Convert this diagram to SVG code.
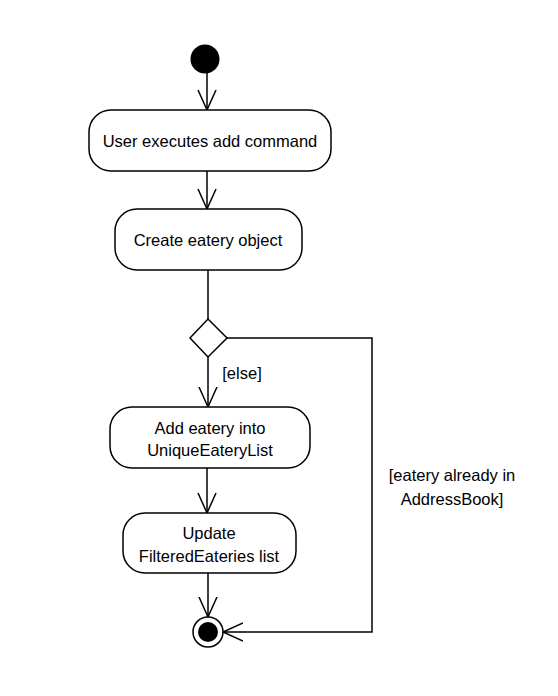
<svg xmlns="http://www.w3.org/2000/svg" width="558" height="696" viewBox="0 0 558 696">
<style>
.n{fill:#fff;stroke:#000;stroke-width:1.5}
.t{font-family:"Liberation Sans",Arial,sans-serif;font-size:16.5px;fill:#000;text-anchor:middle}
.c{fill:none;stroke:#000;stroke-width:1.5}
</style>
<defs>
<marker id="a" markerUnits="userSpaceOnUse" markerWidth="24" markerHeight="24" refX="20" refY="10" orient="auto" viewBox="0 0 24 20">
<path d="M0,1 L20,10 L0,19" fill="none" stroke="#000" stroke-width="1.5"/>
</marker>
</defs>
<rect width="558" height="696" fill="#fff"/>
<g id="connectors">
<line class="c" x1="207" y1="73" x2="207" y2="110" marker-end="url(#a)"/>
<line class="c" x1="207" y1="171" x2="207" y2="209" marker-end="url(#a)"/>
<line class="c" x1="208" y1="270" x2="208" y2="319"/>
<line class="c" x1="208" y1="357" x2="208" y2="407" marker-end="url(#a)"/>
<line class="c" x1="207" y1="468" x2="207" y2="513" marker-end="url(#a)"/>
<line class="c" x1="208" y1="573" x2="208" y2="617" marker-end="url(#a)"/>
<polyline class="c" points="227,338 372,338 372,632 223,632" marker-end="url(#a)"/>
<text class="t" x="242" y="379">[else]</text>
<text class="t" x="452" y="481">[eatery already in</text>
<text class="t" x="452" y="505">AddressBook]</text>
</g>
<g id="start"><circle cx="205" cy="59" r="14.5" fill="#000"/></g>
<g id="n1"><rect class="n" x="89" y="110" width="242" height="61" rx="22"/><text class="t" x="210" y="147">User executes add command</text></g>
<g id="n2"><rect class="n" x="115" y="209" width="187" height="61" rx="22"/><text class="t" x="208" y="246">Create eatery object</text></g>
<g id="decision"><polygon class="n" points="208,319 227,338 208,357 190,338"/></g>
<g id="n3"><rect class="n" x="110" y="407" width="200" height="61" rx="22"/><text class="t" x="210" y="434">Add eatery into</text><text class="t" x="210" y="456">UniqueEateryList</text></g>
<g id="n4"><rect class="n" x="123" y="513" width="173" height="60" rx="22"/><text class="t" x="209" y="539">Update</text><text class="t" x="209" y="562">FilteredEateries list</text></g>
<g id="end"><circle cx="208" cy="632" r="15" fill="#fff" stroke="#000" stroke-width="1.5"/><circle cx="208" cy="632" r="10" fill="#000"/></g>
</svg>
